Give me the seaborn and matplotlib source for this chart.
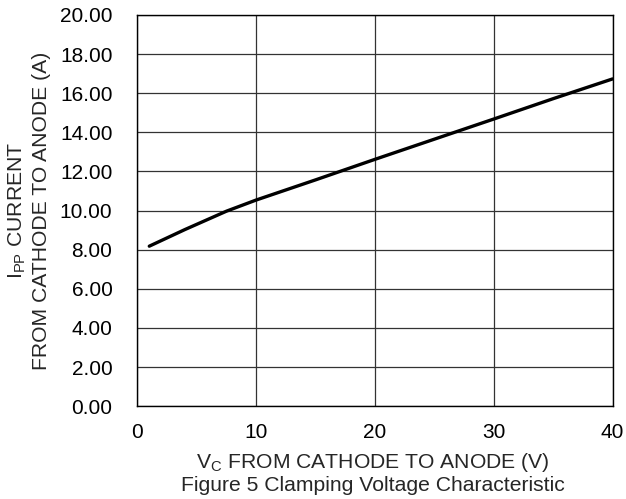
import matplotlib
matplotlib.use("Agg")
import matplotlib.pyplot as plt
import seaborn as sns
import pandas as pd

# values
vc_volts = [1, 4, 7.5, 10, 15, 20, 25, 30, 35, 40]
ipp_amps = [8.18, 9.03, 9.97, 10.54, 11.57, 12.62, 13.65, 14.68, 15.72, 16.73]

x_ticks = [0, 10, 20, 30, 40]
y_ticks = [0, 2, 4, 6, 8, 10, 12, 14, 16, 18, 20]

sns.set_style("white")
plt.rcParams["font.family"] = ["Liberation Sans", "DejaVu Sans"]
plt.rcParams["mathtext.fontset"] = "custom"
plt.rcParams["mathtext.rm"] = "Liberation Sans"

df = pd.DataFrame({"vc": vc_volts, "ipp": ipp_amps})

fig = plt.figure(figsize=(6.26, 4.99), dpi=100)
ax = fig.add_axes([0.2195, 0.186, 0.759, 0.784])

sns.lineplot(data=df, x="vc", y="ipp", ax=ax, color="black", linewidth=2.4)

ax.set_xlim(0, 40)
ax.set_ylim(0, 20)
ax.set_xticks(x_ticks)
ax.set_yticks(y_ticks)
ax.set_yticklabels([f"{v:.2f}" for v in y_ticks])
ax.tick_params(axis="both", length=0, labelsize=15, colors="black")
ax.tick_params(axis="x", pad=12)
ax.tick_params(axis="y", pad=18)
ax.grid(True, color="#333333", linewidth=0.9)
for s in ax.spines.values():
    s.set_color("black")
    s.set_linewidth(1.0)
ax.set_xlabel("")
ax.set_ylabel("")

fig.text(0.028, 0.578, r"I$_\mathregular{PP}$ CURRENT", rotation=90, ha="center", va="center", fontsize=15.2)
fig.text(0.066, 0.578, "FROM CATHODE TO ANODE (A)", rotation=90, ha="center", va="center", fontsize=15.2)
fig.text(0.595, 0.073, r"V$_\mathregular{C}$ FROM CATHODE TO ANODE (V)", ha="center", va="center", fontsize=15.2)
fig.text(0.595, 0.027, "Figure 5 Clamping Voltage Characteristic", ha="center", va="center", fontsize=15.2)

fig.savefig("out.png", dpi=100)
